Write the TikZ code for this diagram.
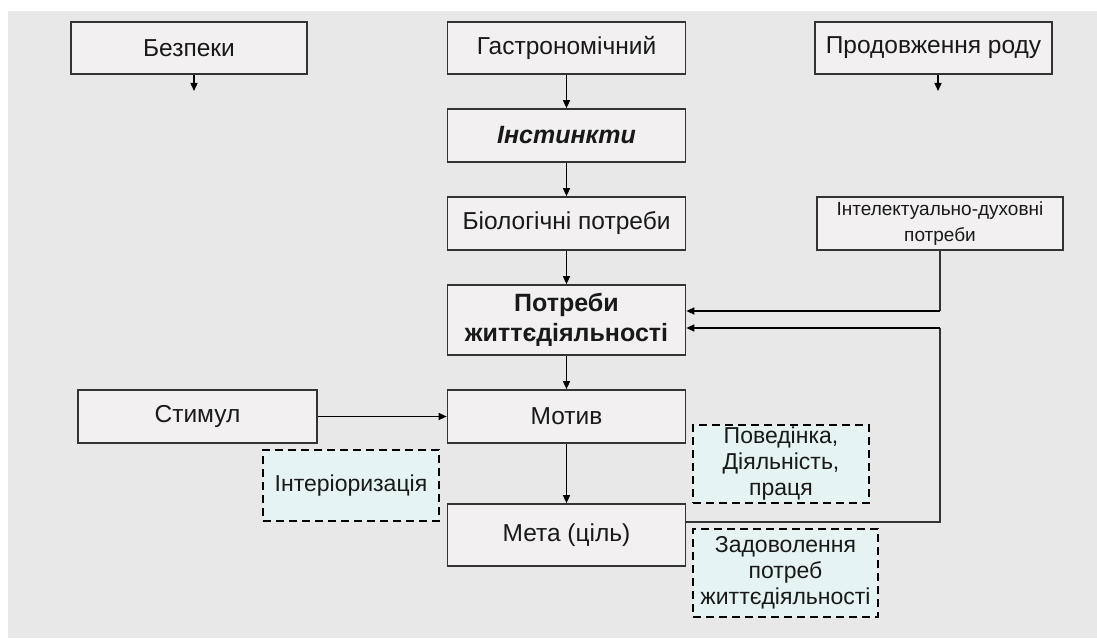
\documentclass[tikz,border=0pt]{standalone}
\usepackage{fontspec}
\setmainfont{Liberation Sans}
\usetikzlibrary{arrows.meta}
\definecolor{bg}{HTML}{E8E8E8}
\definecolor{boxfill}{HTML}{F2F0F1}
\definecolor{dashfill}{HTML}{E6F3F3}
\definecolor{edge}{HTML}{333333}
\begin{document}
\begin{tikzpicture}[x=1pt,y=-1pt,
  box/.style={draw=edge,line width=1.7pt,fill=boxfill,inner sep=0pt,align=center,text=black!90,font=\fontsize{24.5}{28}\selectfont},
  dbox/.style={draw=black,line width=2.4pt,dash pattern=on 8pt off 5pt,fill=dashfill,inner sep=0pt,align=center,text=black!90,font=\fontsize{23}{26}\selectfont},
  arr/.style={line width=1.3pt,draw=black,-{Triangle[length=8pt,width=7pt]}},
  ln/.style={line width=1.3pt,draw=edge}]
\useasboundingbox (0,0) rectangle (1097,639);
\fill[bg] (8,11) rectangle (1097,638);
\node[box,minimum width=236pt,minimum height=52pt] (bez) at (189,48) {Безпеки};
\node[box,minimum width=238pt,minimum height=52pt] (gas) at (566.5,48) {Гастрономічний};
\node[box,minimum width=237pt,minimum height=52pt] (prod) at (933.5,48) {Продовження роду};
\node[box,minimum width=238pt,minimum height=53pt,font=\fontsize{25}{28}\selectfont\bfseries\itshape] (inst) at (566.5,135.5) {Інстинкти};
\node[box,minimum width=238pt,minimum height=53pt] (bio) at (566.5,223.5) {Біологічні потреби};
\node[box,minimum width=246pt,minimum height=53pt,font=\fontsize{19}{26}\selectfont] (int) at (940,223.5) {Інтелектуально-духовні\\потреби};
\node[box,minimum width=238pt,minimum height=70pt,font=\fontsize{25}{30}\selectfont\bfseries] (pot) at (566.5,320) {Потреби\\життєдіяльності};
\node[box,minimum width=238pt,minimum height=53pt] (mot) at (566.5,416.5) {Мотив};
\node[box,minimum width=239pt,minimum height=53pt] (stim) at (197.5,416.5) {Стимул};
\node[box,minimum width=238pt,minimum height=62pt] (meta) at (566.5,535) {Мета (ціль)};
\node[dbox,minimum width=176pt,minimum height=78pt] (pov) at (781,464) {Поведінка,\\Діяльність,\\праця};
\node[dbox,minimum width=176pt,minimum height=71pt] (inter) at (351,485.5) {Інтеріоризація};
\node[dbox,minimum width=185pt,minimum height=88pt] (zad) at (785.5,573) {Задоволення\\потреб\\життєдіяльності};
\coordinate (bezend) at (194,91);
\coordinate (prodend) at (938,91);
\draw[arr] (bez.south -| bezend) -- (bezend);
\draw[arr] (prod.south -| prodend) -- (prodend);
\draw[arr] (gas) -- (inst);
\draw[arr] (inst) -- (bio);
\draw[arr] (bio) -- (pot);
\draw[arr] (pot) -- (mot);
\draw[arr] (mot) -- (meta);
\draw[arr] (stim) -- (mot);
\coordinate (c1) at (940,311);
\coordinate (c2) at (940,328);
\draw[ln] (int.south -| c1) -- (c1);
\draw[arr] (c1) -- (c1 -| pot.east);
\draw[ln] (meta.east |- 0,522) -- (940,522) -- (c2);
\draw[arr] (c2) -- (c2 -| pot.east);
\end{tikzpicture}
\end{document}
